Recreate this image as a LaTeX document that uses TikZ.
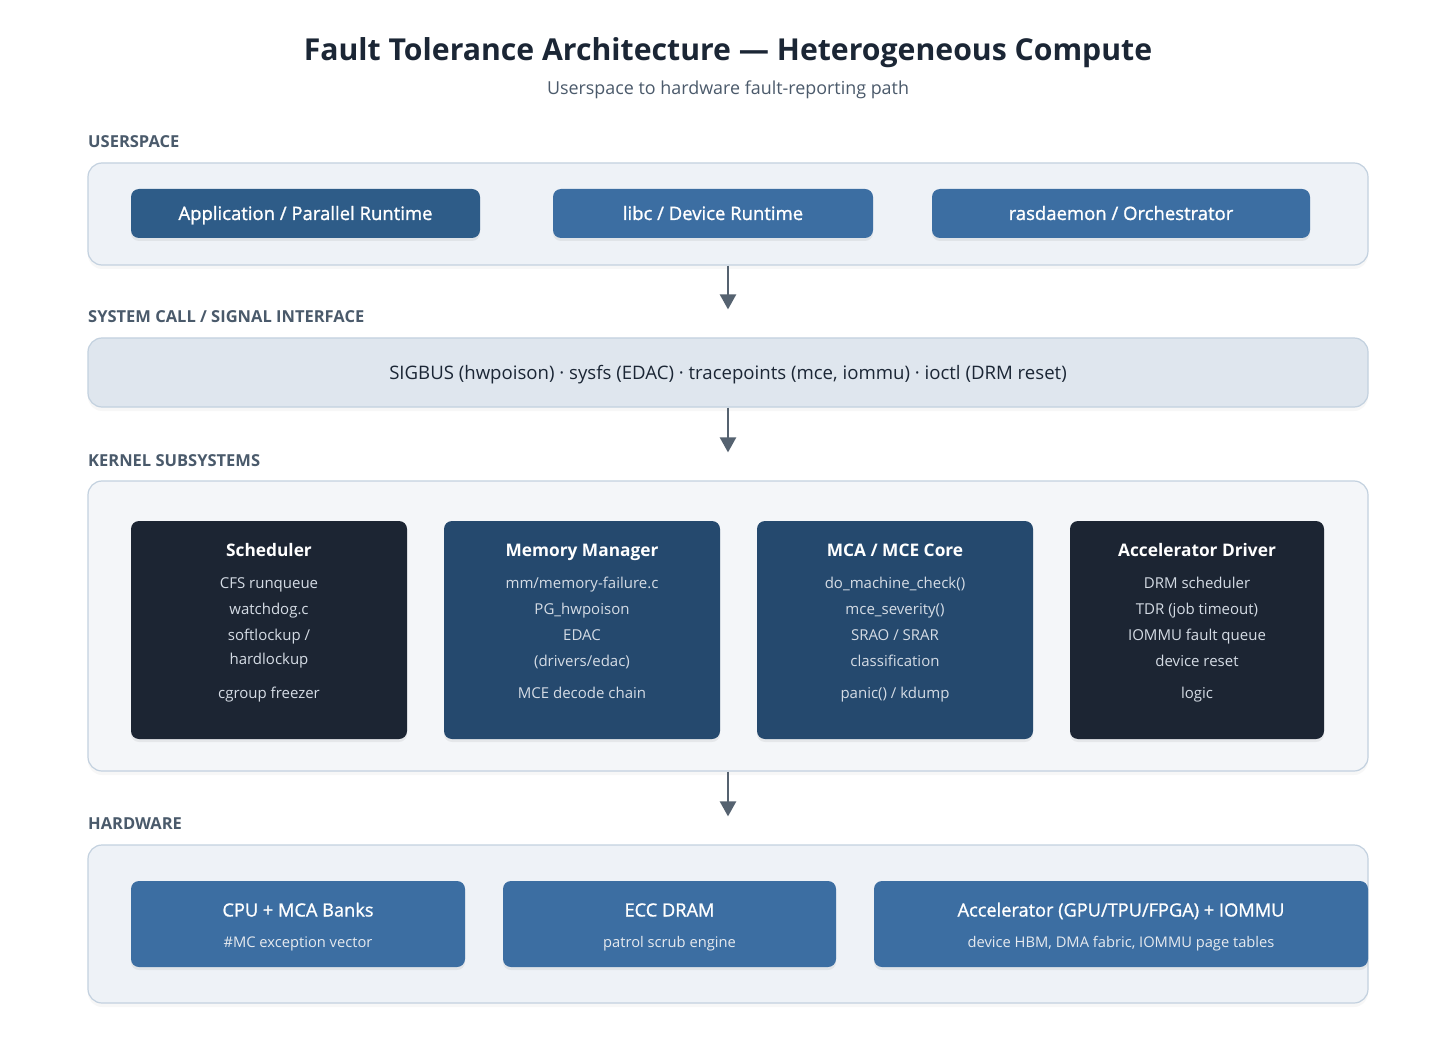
\documentclass[tikz,border=0pt]{standalone}
\usepackage{fontspec}
\setmainfont{Open Sans}
\newfontfamily\semifont{Open Sans}[FakeBold=1.1]
\usetikzlibrary{arrows.meta,positioning,shadows}

\definecolor{ink}{HTML}{1B2635}
\definecolor{subink}{HTML}{4B5A6B}
\definecolor{secink}{HTML}{4A5A6B}
\definecolor{panelbg}{HTML}{EEF2F7}
\definecolor{kernelbg}{HTML}{F4F6F9}
\definecolor{sysbg}{HTML}{DFE6EE}
\definecolor{panelline}{HTML}{C3D1DF}
\definecolor{appblue}{HTML}{2E5C88}
\definecolor{midblue}{HTML}{3C6EA2}
\definecolor{navy}{HTML}{25496E}
\definecolor{darkbox}{HTML}{1C2533}
\definecolor{itemink}{HTML}{D5DCE5}
\definecolor{arrowgrey}{HTML}{556270}

\begin{document}
\begin{tikzpicture}[x=1pt,y=-1pt,>={Triangle[length=15pt,width=16pt]},
    panel/.style={draw=panelline,line width=1.2pt,fill=panelbg,rounded corners=14pt,
      drop shadow={shadow xshift=0pt,shadow yshift=-4pt,opacity=0.06}},
    box/.style={rounded corners=8pt,minimum height=49pt,text=white,text height=13pt,text depth=0pt,
      font=\semifont\fontsize{18.5}{20}\selectfont,
      drop shadow={shadow xshift=0pt,shadow yshift=-3pt,opacity=0.12}},
    seclabel/.style={anchor=west,inner sep=0pt,text=secink,text height=12pt,text depth=0pt,
      font=\fontsize{16.5}{18}\bfseries\selectfont},
    ktitle/.style={text=white,text height=15pt,text depth=0pt,font=\fontsize{17.3}{20}\bfseries\selectfont},
    item/.style={text=itemink,text height=12pt,text depth=0pt,font=\fontsize{15}{18}\selectfont},
    flow/.style={->,line width=2.4pt,draw=arrowgrey,shorten >=28pt}]
  \useasboundingbox[fill=white] (0,0) rectangle (1456,1048);

  % heading
  \node[text=ink,font=\fontsize{30.2}{34}\bfseries\selectfont] (title) at (728,53)
    {Fault Tolerance Architecture — Heterogeneous Compute};
  \node[text=subink,font=\fontsize{17.9}{20}\selectfont] (subtitle) at (728,90)
    {Userspace to hardware fault-reporting path};

  % userspace
  \node[seclabel] (userlbl) at (88,142) {USERSPACE};
  \node[panel,minimum width=1280pt,minimum height=102pt] (user) at (728,214) {};
  \node[box,fill=appblue,minimum width=349pt] (app) at (305.5,213.5) {Application / Parallel Runtime};
  \node[box,fill=midblue,minimum width=320pt] (libc) at (713,213.5) {libc / Device Runtime};
  \node[box,fill=midblue,minimum width=378pt] (ras) at (1121,213.5) {rasdaemon / Orchestrator};

  % system call band
  \node[seclabel] (syslbl) at (88,317) {SYSTEM CALL / SIGNAL INTERFACE};
  \node[panel,fill=sysbg,minimum width=1280pt,minimum height=69pt,text=ink,
    text height=13pt,text depth=0pt,font=\fontsize{18.6}{20}\selectfont] (sys) at (728,372.5)
    {SIGBUS (hwpoison) · sysfs (EDAC) · tracepoints (mce, iommu) · ioctl (DRM reset)};

  % kernel subsystems
  \node[seclabel] (kernlbl) at (88,460) {KERNEL SUBSYSTEMS};
  \node[panel,fill=kernelbg,minimum width=1280pt,minimum height=290pt] (kernel) at (728,626) {};
  \node[box,fill=darkbox,minimum width=276pt,minimum height=218pt] (sched) at (269,630) {};
  \node[box,fill=navy,minimum width=276pt,minimum height=218pt] (mm) at (582,630) {};
  \node[box,fill=navy,minimum width=276pt,minimum height=218pt] (mca) at (895,630) {};
  \node[box,fill=darkbox,minimum width=254pt,minimum height=218pt] (accdrv) at (1197,630) {};

  \node[ktitle] (sched-t) at (269,549) {Scheduler};
  \foreach \y/\s in {582/CFS runqueue,608/watchdog.c,634/{softlockup /},658/hardlockup,692/cgroup freezer}
    \node[item] (sched-\y) at (269,\y) {\s};
  \node[ktitle] (mm-t) at (582,549) {Memory Manager};
  \foreach \y/\s in {582/{mm/memory-failure.c},608/PG\_hwpoison,634/EDAC,660/{(drivers/edac)},692/MCE decode chain}
    \node[item] (mm-\y) at (582,\y) {\s};
  \node[ktitle] (mca-t) at (895,549) {MCA / MCE Core};
  \foreach \y/\s in {582/do\_machine\_check(),608/mce\_severity(),634/{SRAO / SRAR},660/classification,692/{panic() / kdump}}
    \node[item] (mca-\y) at (895,\y) {\s};
  \node[ktitle] (accdrv-t) at (1197,549) {Accelerator Driver};
  \foreach \y/\s in {582/DRM scheduler,608/TDR (job timeout),634/IOMMU fault queue,660/device reset,692/logic}
    \node[item] (accdrv-\y) at (1197,\y) {\s};

  % hardware
  \node[seclabel] (hwlbl) at (88,823) {HARDWARE};
  \node[panel,minimum width=1280pt,minimum height=158pt] (hw) at (728,924) {};
  \node[box,fill=midblue,minimum width=334pt,minimum height=86pt] (cpu) at (298,924) {};
  \node[box,fill=midblue,minimum width=333pt,minimum height=86pt] (ecc) at (669.5,924) {};
  \node[box,fill=midblue,minimum width=494pt,minimum height=86pt] (acc) at (1121,924) {};
  \foreach \n/\x/\t/\s in {cpu/298/CPU + MCA Banks/\#MC exception vector,
      ecc/669.5/ECC DRAM/patrol scrub engine,
      acc/1121/{Accelerator (GPU/TPU/FPGA) + IOMMU}/{device HBM, DMA fabric, IOMMU page tables}} {
    \node[text=white,text height=13pt,text depth=0pt,font=\semifont\fontsize{18.2}{20}\selectfont] (\n-t) at (\x,910) {\t};
    \node[item,text=itemink!60!white,font=\fontsize{14.7}{18}\selectfont] (\n-s) at (\x,941) {\s};
  }

  % reporting path
  \draw[flow] (user) -- (sys);
  \draw[flow] (sys) -- (kernel);
  \draw[flow] (kernel) -- (hw);
\end{tikzpicture}
\end{document}
